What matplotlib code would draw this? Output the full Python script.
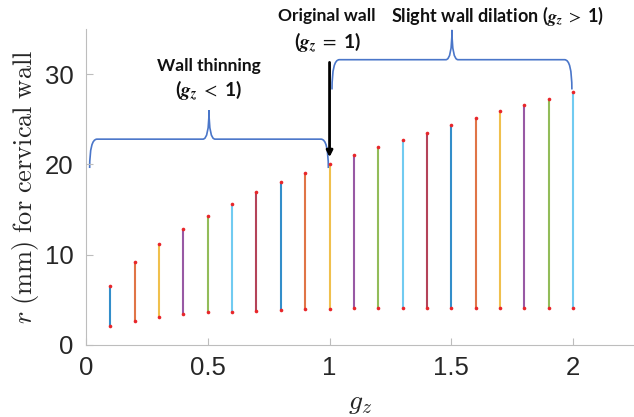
import matplotlib.pyplot as plt
from matplotlib.path import Path
from matplotlib.patches import PathPatch

# growth factor g_z and the wall radii
gz = [0.1, 0.2, 0.3, 0.4, 0.5, 0.6, 0.7, 0.8, 0.9, 1.0,
      1.1, 1.2, 1.3, 1.4, 1.5, 1.6, 1.7, 1.8, 1.9, 2.0]
r_outer = [6.5, 9.2, 11.2, 12.8, 14.3, 15.6, 16.9, 18.0, 19.0, 20.0,
           21.0, 21.9, 22.7, 23.5, 24.4, 25.1, 25.9, 26.6, 27.3, 28.0]
r_inner = [2.1, 2.7, 3.1, 3.4, 3.6, 3.7, 3.8, 3.9, 4.0, 4.0,
           4.1, 4.1, 4.1, 4.1, 4.1, 4.1, 4.1, 4.1, 4.1, 4.1]

matlab_colors = ['#0072BD', '#D95319', '#EDB120', '#7E2F8E',
                 '#77AC30', '#4DBEEE', '#A2142F']
brace_color = '#4A76C9'
axis_grey = '#BDBDBD'
text_dark = '#262626'


def brace(ax, x0, x1, y_end, y_base, y_tip, w=0.03, wc=0.025):
    xm = (x0 + x1) / 2
    verts = [(x0, y_end), (x0, y_base), (x0 + w, y_base),
             (xm - wc, y_base),
             (xm, y_base), (xm, y_tip),
             (xm, y_base), (xm + wc, y_base),
             (x1 - w, y_base),
             (x1, y_base), (x1, y_end)]
    codes = [Path.MOVETO, Path.CURVE3, Path.CURVE3,
             Path.LINETO,
             Path.CURVE3, Path.CURVE3,
             Path.CURVE3, Path.CURVE3,
             Path.LINETO,
             Path.CURVE3, Path.CURVE3]
    ax.add_patch(PathPatch(Path(verts, codes), fill=False, edgecolor=brace_color,
                           lw=1.2, clip_on=False))


fig = plt.figure(figsize=(6.34, 4.17), dpi=100)
ax = fig.add_axes([86 / 634, 72 / 417, (634 - 86) / 634, 316 / 417])

for i, (x, lo, hi) in enumerate(zip(gz, r_inner, r_outer)):
    ax.plot([x, x], [lo, hi], color=matlab_colors[i % 7], lw=1.5, alpha=0.8,
            solid_capstyle='butt')
    ax.plot([x, x], [lo, hi], ls='none', marker='o', ms=2.6, color='#E8262A',
            mec='none')

ax.set_xlim(0, 2.25)
ax.set_ylim(0, 35)
ax.set_xticks([0, 0.5, 1, 1.5, 2])
ax.set_xticklabels(['0', '0.5', '1', '1.5', '2'])
ax.set_yticks([0, 10, 20, 30])
for side in ['top', 'right']:
    ax.spines[side].set_visible(False)
for side in ['left', 'bottom']:
    ax.spines[side].set_color(axis_grey)
ax.tick_params(direction='in', length=5, color=axis_grey, labelsize=18.5,
               labelcolor=text_dark)
ax.tick_params(axis='x', pad=8)
ax.tick_params(axis='y', pad=9)
for lab in ax.get_xticklabels() + ax.get_yticklabels():
    lab.set_fontfamily('Liberation Sans')

ax.set_xlabel(r'$g_z$', fontsize=20, math_fontfamily='cm', color=text_dark,
              labelpad=6)
ax.set_ylabel(r'$r\ \mathrm{(mm)\ for\ cervical\ wall}$', fontsize=19,
              math_fontfamily='cm', color=text_dark, labelpad=3)

# annotations
brace(ax, 0.015, 0.995, 19.6, 22.8, 26.0)
brace(ax, 1.01, 1.995, 28.3, 31.6, 34.9)

ann = dict(fontfamily='Lato', fontweight='bold', ha='center', va='center',
           math_fontfamily='stix', clip_on=False, color='#111111')
g_z = r'\mathbfit{g}_{\mathbfit{z}}'
ax.text(0.505, 30.9, 'Wall thinning', fontsize=12.5, **ann)
ax.text(0.505, 28.2, '($' + g_z + r'\;<$ 1)', fontsize=14, **ann)
ax.text(0.99, 36.4, 'Original wall', fontsize=12.5, **ann)
ax.text(0.99, 33.5, '($' + g_z + r'\;=$ 1)', fontsize=14, **ann)
ax.text(1.69, 36.4, 'Slight wall dilation ($' + g_z + r'\;>$ 1)', fontsize=13, **ann)

ax.annotate('', xy=(1.0, 20.8), xytext=(1.0, 31.3),
            arrowprops=dict(arrowstyle='-|>', color='k', lw=2, mutation_scale=9,
                            shrinkA=0, shrinkB=0),
            annotation_clip=False)

fig.savefig('out.png', dpi=100)
